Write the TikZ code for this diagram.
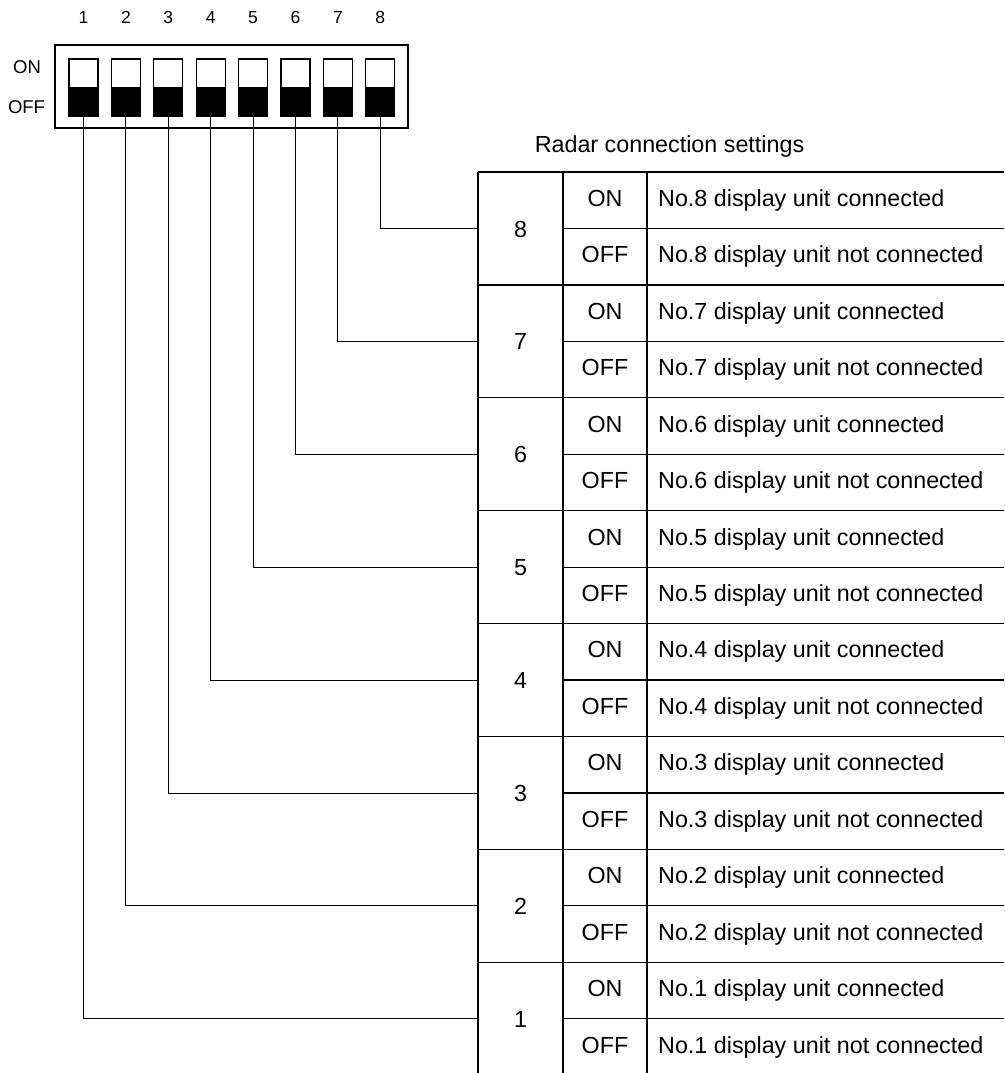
\documentclass[tikz,border=0pt]{standalone}
\usepackage{fontspec}
\setmainfont{Liberation Sans}
\begin{document}
\begin{tikzpicture}[x=1pt,y=-1pt,
  frame/.style={draw=black,line width=1.2pt},
  lead/.style={draw=black,line width=0.9pt},
  txt/.style={font=\fontsize{23.3}{26}\selectfont,inner sep=0pt,anchor=base},
  sidelbl/.style={font=\fontsize{18.5}{21}\selectfont,inner sep=0pt,anchor=base},
  small/.style={font=\fontsize{17.5}{20}\selectfont,inner sep=0pt,anchor=base}]
\useasboundingbox (0,0) rectangle (1004,1073);
% DIP switch body
\draw[frame] (55,45) rectangle (408,128);
\node[sidelbl] (lon) at (27,73.5) {ON};
\node[sidelbl] (loff) at (26.5,113.5) {OFF};
\foreach \i in {1,...,8}{
  \pgfmathsetmacro{\xl}{69+(\i-1)*42.4}
  \pgfmathsetmacro{\xc}{\xl+14.5}
  \node[small] (n\i) at (\xc,24) {\i};
  \fill[black] (\xl,87) rectangle (\xl+29,116);
  \draw[line width=1.1pt] (\xl,59) rectangle (\xl+29,116);
  \coordinate (s\i) at (\xc,116);
}
% settings table
\node[txt] (title) at (669.5,152) {Radar connection settings};
\def\tl{478}\def\ca{563}\def\cb{647}\def\ttop{172}\def\rh{56.45}
\draw[frame] (\tl,\ttop) -- (1004,\ttop);
\foreach \g in {8,...,1}{
  \pgfmathsetmacro{\yt}{\ttop+(8-\g)*2*\rh}
  \pgfmathsetmacro{\ym}{\yt+\rh}
  \pgfmathsetmacro{\yb}{\yt+2*\rh}
  \draw[frame] (\ca,\ym) -- (1004,\ym);
  \ifnum\g>1 \draw[frame] (\tl,\yb) -- (1004,\yb); \fi
  \node[txt] (g\g) at ({(\tl+\ca)/2},\ym+8.6) {\g};
  \node[txt] (on\g) at ({(\ca+\cb)/2},{\yt+34.3}) {ON};
  \node[txt] (off\g) at ({(\ca+\cb)/2},{\ym+34.3}) {OFF};
  \node[txt,anchor=base west] (don\g) at (658,{\yt+34.3}) {No.\g\ display unit connected};
  \node[txt,anchor=base west] (doff\g) at (658,{\ym+34.3}) {No.\g\ display unit not connected};
  \coordinate (t\g) at (\tl,\ym);
  \draw[lead] (s\g) |- (t\g);
}
\draw[frame] (\tl,\ttop) -- (\tl,1073);
\draw[frame] (\ca,\ttop) -- (\ca,1073);
\draw[frame] (\cb,\ttop) -- (\cb,1073);
\end{tikzpicture}
\end{document}
